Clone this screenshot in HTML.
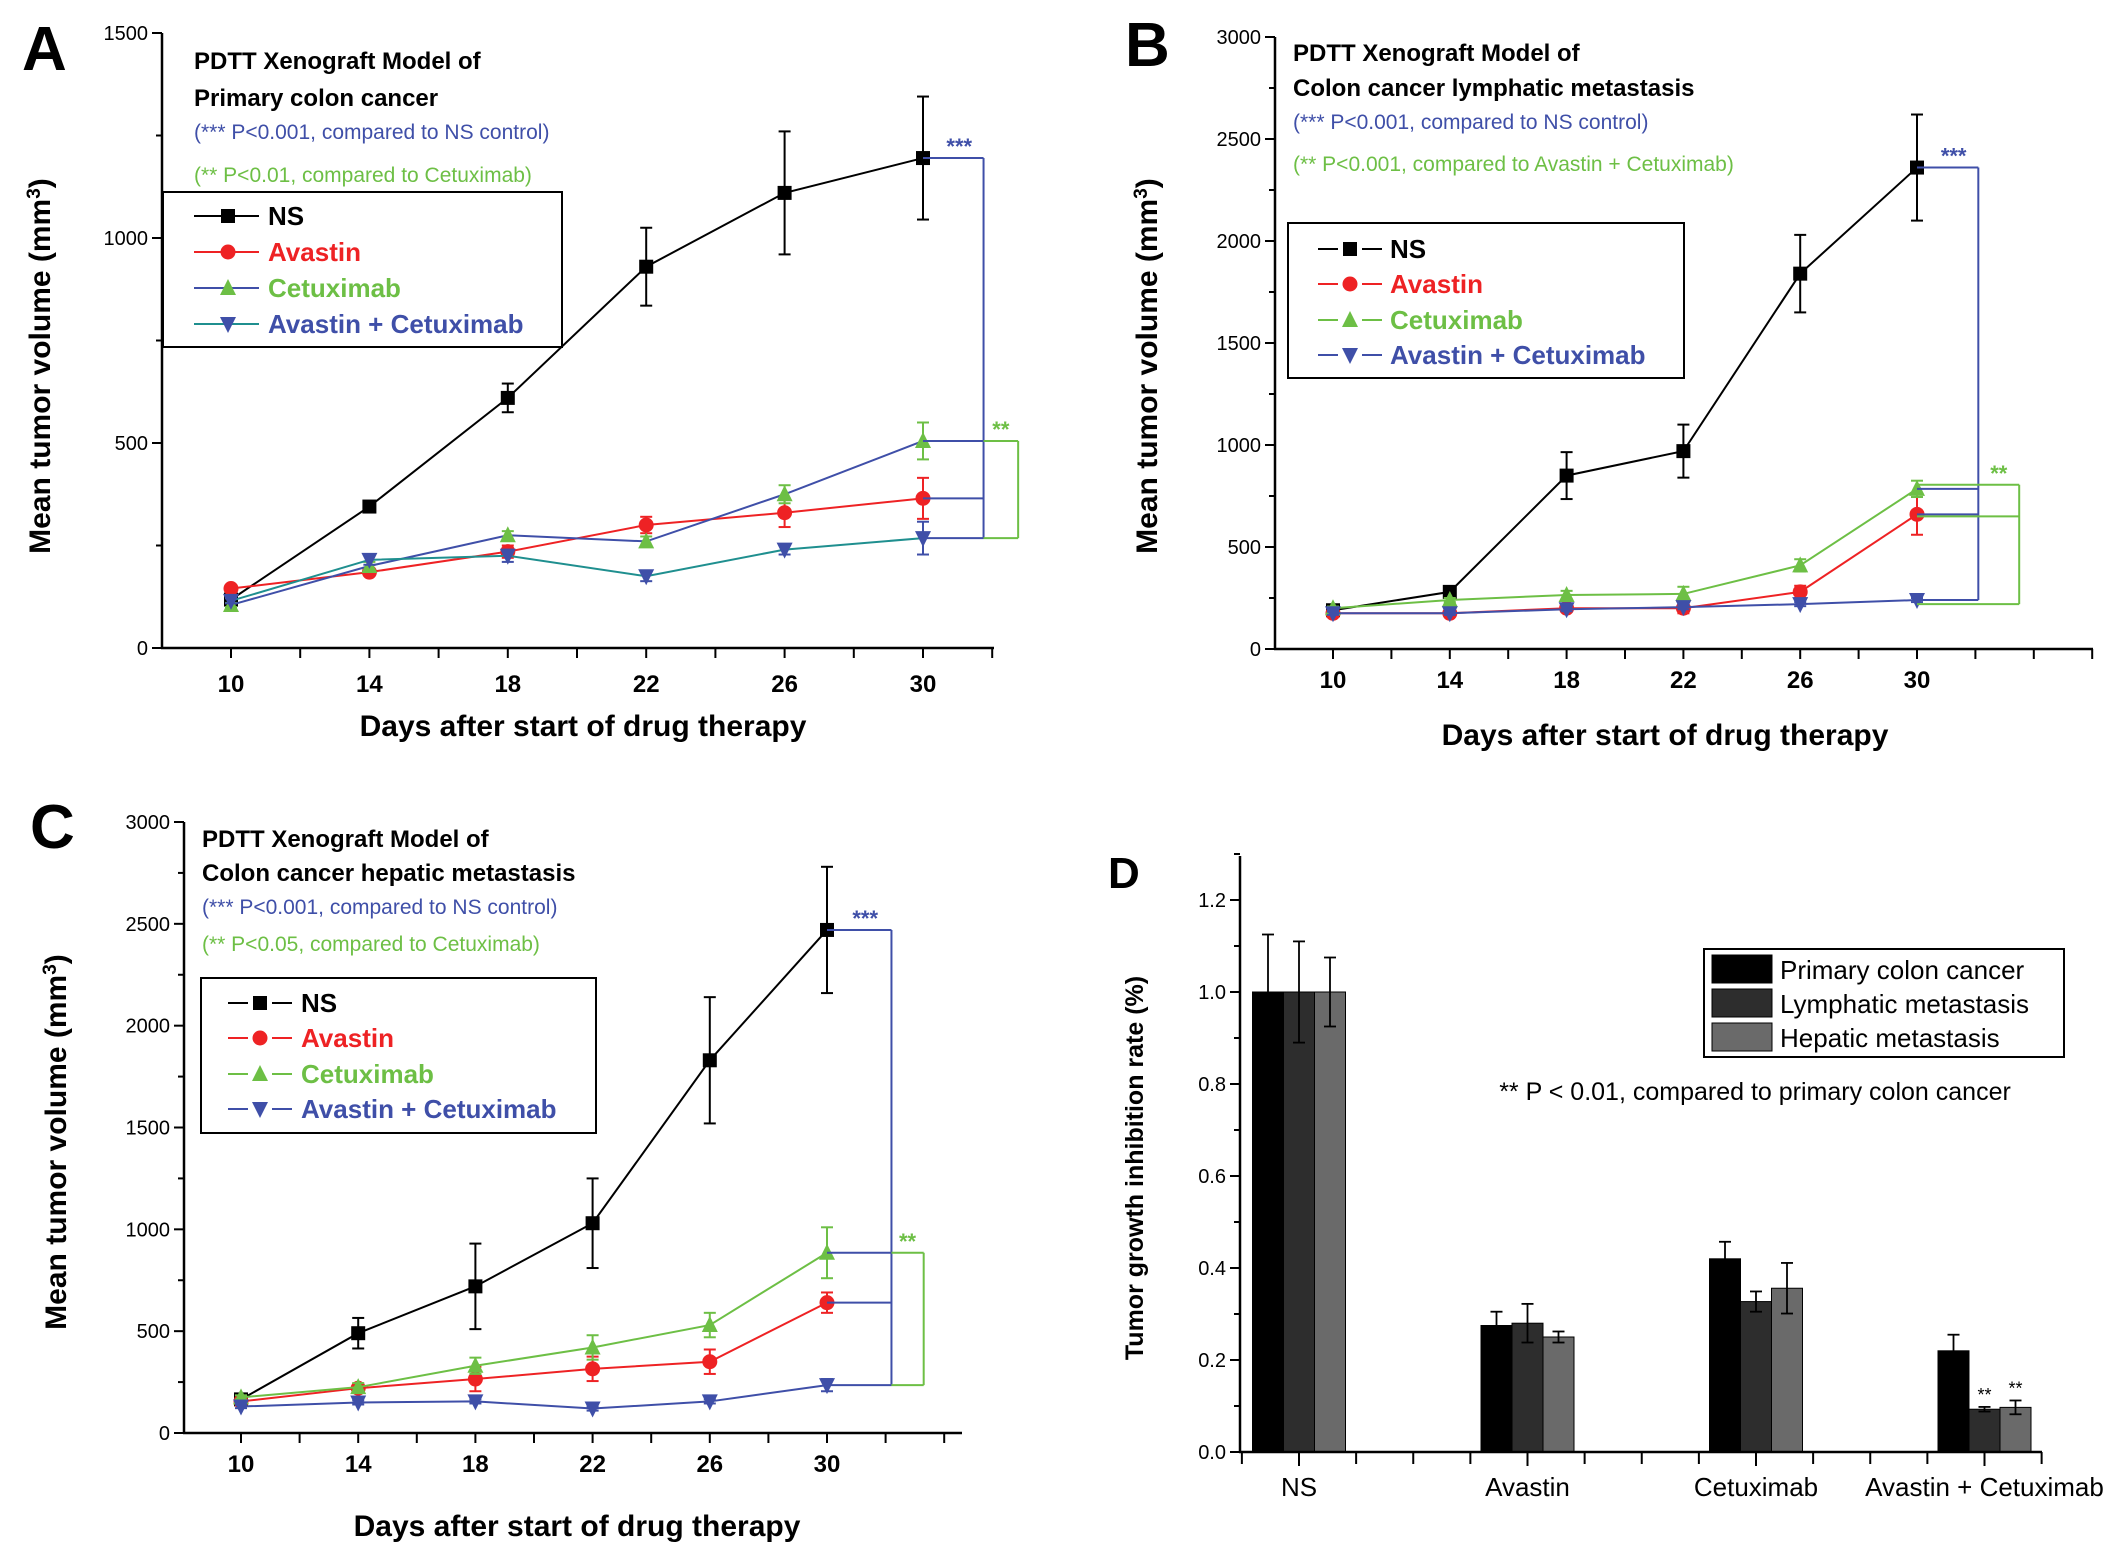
<!DOCTYPE html>
<html><head><meta charset="utf-8"><style>
html,body{margin:0;padding:0;background:#fff;}
svg{display:block;}
text{font-family:"Liberation Sans Narrow","Liberation Sans",sans-serif;}
.b{font-weight:bold;}
</style></head><body>
<svg id="fig" xmlns="http://www.w3.org/2000/svg" width="2125" height="1552" viewBox="0 0 2125 1552"></svg>
<script>
// ---------- data ----------
const days = [10, 14, 18, 22, 26, 30];
const seriesNames = ["NS", "Avastin", "Cetuximab", "Avastin + Cetuximab"];
// Panel A
const aNS = [118, 345, 610, 930, 1110, 1195];
const aNSErr = [8, 12, 35, 95, 150, 150];
const aAv = [145, 185, 235, 300, 330, 365];
const aAvErr = [8, 8, 15, 20, 35, 50];
const aCet = [105, 200, 275, 260, 375, 505];
const aCetErr = [5, 10, 10, 12, 22, 45];
const aCom = [115, 215, 225, 175, 240, 268];
const aComErr = [6, 12, 15, 12, 12, 40];
const aTicks = [0, 500, 1000, 1500];
// Panel B
const bNS = [190, 280, 850, 970, 1840, 2360];
const bNSErr = [10, 20, 115, 130, 190, 260];
const bAv = [175, 175, 200, 200, 280, 660];
const bAvErr = [8, 8, 10, 25, 30, 100];
const bCet = [200, 240, 265, 270, 410, 785];
const bCetErr = [8, 10, 20, 35, 30, 40];
const bCom = [175, 175, 195, 205, 220, 240];
const bComErr = [8, 8, 10, 10, 10, 10];
const bTicks = [0, 500, 1000, 1500, 2000, 2500, 3000];
// Panel C
const cNS = [165, 490, 720, 1030, 1830, 2470];
const cNSErr = [10, 75, 210, 220, 310, 310];
const cAv = [155, 220, 265, 315, 350, 640];
const cAvErr = [8, 20, 60, 60, 60, 50];
const cCet = [175, 225, 330, 420, 530, 885];
const cCetErr = [10, 20, 40, 60, 60, 125];
const cCom = [130, 150, 155, 120, 155, 235];
const cComErr = [8, 10, 10, 10, 10, 30];
const cTicks = [0, 500, 1000, 1500, 2000, 2500, 3000];
// Panel D
const dCats = ["NS", "Avastin", "Cetuximab", "Avastin + Cetuximab"];
const dGroups = ["Primary colon cancer", "Lymphatic metastasis", "Hepatic metastasis"];
const dPrimary = [1.0, 0.275, 0.42, 0.22];
const dPrimaryErr = [0.125, 0.03, 0.037, 0.035];
const dLymph = [1.0, 0.28, 0.327, 0.093];
const dLymphErr = [0.11, 0.042, 0.022, 0.005];
const dHep = [1.0, 0.25, 0.356, 0.097];
const dHepErr = [0.075, 0.012, 0.055, 0.015];
const dTicks = [0.0, 0.2, 0.4, 0.6, 0.8, 1.0, 1.2];
const dTickLabels = ["0.0", "0.2", "0.4", "0.6", "0.8", "1.0", "1.2"];

const NS = "http://www.w3.org/2000/svg";
const svg = document.getElementById("fig");
function mk(tag, parent) { const e = document.createElementNS(NS, tag); parent.appendChild(e); return e; }
function at(e, o) { for (const k in o) e.setAttribute(k, o[k]); return e; }
function line(p, x1, y1, x2, y2, c, w) { return at(mk("line", p), {x1, y1, x2, y2, stroke: c, "stroke-width": w || 2}); }
function txt(p, x, y, s, size, color, opts) {
  const t = mk("text", p); t.textContent = s;
  at(t, {x, y, "font-size": size, fill: color || "#000"});
  if (opts) at(t, opts);
  return t;
}
function marker(p, type, x, y, c) {
  let m;
  const s = 7;
  if (type === "sq") m = at(mk("rect", p), {x: x - s, y: y - s, width: 2 * s, height: 2 * s, fill: c});
  else if (type === "ci") m = at(mk("circle", p), {cx: x, cy: y, r: s + 0.5, fill: c});
  else if (type === "up") m = at(mk("polygon", p), {points: `${x},${y - s - 2} ${x - s - 1},${y + s} ${x + s + 1},${y + s}`, fill: c});
  else m = at(mk("polygon", p), {points: `${x},${y + s + 2} ${x - s - 1},${y - s} ${x + s + 1},${y - s}`, fill: c});
  return m;
}

const BLACK = "#000", RED = "#ee2224", GREEN = "#6dbf45", BLUE = "#3f4fa8", TEAL = "#1f8f8f";

function linePanel(cfg) {
  const g = mk("g", svg);
  
  
  const X = d => cfg.x10 + (d - 10) * cfg.pxDay;
  const Y = v => cfg.y0 - v * (cfg.y0 - cfg.yTop) / cfg.yMax;
  const L = txt(g, cfg.letterX, cfg.letterY, cfg.letter, 62, "#000", {"font-family": "Liberation Sans, sans-serif", "font-weight": "bold"});
  
  
  const ax = mk("g", g);
  
  
  line(ax, cfg.axX, Y(cfg.yMax), cfg.axX, cfg.y0 + 1, "#000", 2.5);
  const step = cfg.ticks[1] - cfg.ticks[0];
  for (let v = 0; v <= cfg.yMax; v += step / 2) {
    const major = cfg.ticks.indexOf(v) >= 0;
    line(ax, cfg.axX - (major ? 10 : 6), Y(v), cfg.axX, Y(v), "#000", 2);
  }
  cfg.ticks.forEach(v => {
    const t = txt(ax, cfg.axX - 14, Y(v) + 7, String(v), 20, "#000", {"text-anchor": "end"});
    
    
  });
  const xa = mk("g", g);
  
  
  line(xa, cfg.axX - 1, cfg.y0, cfg.axRight, cfg.y0, "#000", 2.5);
  for (let d = 10; X(d) <= cfg.axRight + 1; d += 2) line(xa, X(d), cfg.y0, X(d), cfg.y0 + 10, "#000", 2);
  for (let d = 8; X(d) >= cfg.axX; d -= 2) line(xa, X(d), cfg.y0, X(d), cfg.y0 + 10, "#000", 2);
  days.forEach(d => {
    const t = txt(xa, X(d), cfg.xTickY, String(d), 24, "#000", {"text-anchor": "middle", "font-weight": "bold"});
    
    
  });
  const xl = txt(g, cfg.xLabelX, cfg.xLabelY, "Days after start of drug therapy", 30, "#000", {"text-anchor": "middle", "font-family": "Liberation Sans, sans-serif", "font-weight": "bold"});
  
  
  const yl = mk("text", g);
  at(yl, {x: 0, y: 0, "font-size": 30, "font-weight": "bold", "text-anchor": "middle", "font-family": "Liberation Sans, sans-serif", transform: `translate(${cfg.yLabelX},${cfg.yLabelY}) rotate(-90)`});
  yl.innerHTML = 'Mean tumor volume (mm<tspan dy="-10" font-size="19">3</tspan><tspan dy="10">)</tspan>';
  
  
  const t1 = txt(g, cfg.titleX, cfg.titleY[0], "PDTT Xenograft Model of", 24, "#000", {"font-weight": "bold"});
  
  
  const t2 = txt(g, cfg.titleX, cfg.titleY[1], cfg.subtitle, 24, "#000", {"font-weight": "bold"});
  
  
  const n1 = txt(g, cfg.titleX, cfg.titleY[2], "(*** P<0.001, compared to NS control)", 21, BLUE);
  
  
  const n2 = txt(g, cfg.titleX, cfg.titleY[3], cfg.greenNote, 21, GREEN);
  
  
  const ser = cfg.series;
  ser.forEach(s => {
    const sg = mk("g", g);
    
    
    const pts = days.map((d, i) => X(d) + "," + Y(s.vals[i])).join(" ");
    at(mk("polyline", sg), {points: pts, fill: "none", stroke: s.line, "stroke-width": 2});
    days.forEach((d, i) => {
      const x = X(d), hi = Y(s.vals[i] + s.err[i]), lo = Y(s.vals[i] - s.err[i]);
      const eb = mk("g", sg);
      
      
      line(eb, x, hi, x, lo, s.mk, 2); line(eb, x - 6, hi, x + 6, hi, s.mk, 2); line(eb, x - 6, lo, x + 6, lo, s.mk, 2);
      const m = marker(sg, s.shape, x, Y(s.vals[i]), s.mk);
      
      
    });
  });
  const br = mk("g", g);
  
  
  const x30 = X(30), bx = X(cfg.blueDay), gx = X(cfg.greenDay);
  const nsV = ser[0].vals[5], avV = ser[1].vals[5], ceV = ser[2].vals[5], coV = ser[3].vals[5];
  [nsV, ceV, avV, coV].forEach(v => line(br, x30, Y(v), bx, Y(v), BLUE, 2));
  line(br, bx, Y(nsV), bx, Y(coV), BLUE, 2);
  line(br, cfg.greenFrom30 ? x30 : bx, Y(ceV + cfg.gOff), gx, Y(ceV + cfg.gOff), GREEN, 2);
  line(br, cfg.greenFrom30 ? x30 : bx, Y(coV - cfg.gOff), gx, Y(coV - cfg.gOff), GREEN, 2);
  if (cfg.greenMid) line(br, x30, Y(avV - 10), gx, Y(avV - 10), GREEN, 2);
  line(br, gx, Y(ceV + cfg.gOff), gx, Y(coV - cfg.gOff), GREEN, 2);
  const s3 = txt(br, (x30 + bx) / 2 + 6, Y(nsV) - 4, "***", 22, BLUE, {"text-anchor": "middle", "font-weight": "bold"});
  
  
  const s2 = txt(br, (bx + gx) / 2, Y(ceV + cfg.gOff) - 4, "**", 22, GREEN, {"text-anchor": "middle", "font-weight": "bold"});
  
  
  const lg = mk("g", g);
  
  
  at(mk("rect", lg), {x: cfg.leg[0], y: cfg.leg[1], width: cfg.leg[2], height: cfg.leg[3], fill: "#fff", stroke: "#000", "stroke-width": 2});
  ser.forEach((s, i) => {
    const e = mk("g", lg);
    
    
    const yy = cfg.legY[i];
    if (cfg.legSplit) {
      line(e, cfg.legLine[0], yy - 9, cfg.legLine[1] - 12, yy - 9, s.line, 2);
      line(e, cfg.legLine[1] + 12, yy - 9, cfg.legLine[2], yy - 9, s.line, 2);
    } else line(e, cfg.legLine[0], yy - 9, cfg.legLine[2], yy - 9, s.line, 2);
    marker(e, s.shape, cfg.legLine[1], yy - 9, s.mk);
    txt(e, cfg.legText, yy, seriesNames[i], 26, s.txt, {"font-weight": "bold"});
  });
}

linePanel({name: "panel-a-primary", letter: "A", letterX: 22, letterY: 70,
  axX: 162, y0: 648, yTop: 33, yMax: 1500, x10: 231, pxDay: 34.6, axRight: 994, ticks: aTicks,
  xTickY: 692, xLabelX: 583, xLabelY: 736, yLabelX: 50, yLabelY: 366,
  titleX: 194, titleY: [69, 106, 139, 182], subtitle: "Primary colon cancer", greenNote: "(** P<0.01, compared to Cetuximab)",
  blueDay: 31.75, greenDay: 32.75, gOff: 0, greenFrom30: false,
  leg: [163, 192, 399, 155], legY: [225, 261, 297, 333], legLine: [194, 228, 259], legText: 268, legSplit: false,
  series: [
    {key: "ns", vals: aNS, err: aNSErr, shape: "sq", mk: BLACK, line: BLACK, txt: BLACK},
    {key: "avastin", vals: aAv, err: aAvErr, shape: "ci", mk: RED, line: RED, txt: RED},
    {key: "cetuximab", vals: aCet, err: aCetErr, shape: "up", mk: GREEN, line: BLUE, txt: GREEN},
    {key: "avastin-cetuximab", vals: aCom, err: aComErr, shape: "dn", mk: BLUE, line: TEAL, txt: BLUE}]});

linePanel({name: "panel-b-lymphatic", letter: "B", letterX: 1125, letterY: 66,
  axX: 1275, y0: 649, yTop: 37, yMax: 3000, x10: 1333, pxDay: 29.2, axRight: 2093, ticks: bTicks,
  xTickY: 688, xLabelX: 1665, xLabelY: 745, yLabelX: 1157, yLabelY: 366,
  titleX: 1293, titleY: [61, 96, 129, 171], subtitle: "Colon cancer lymphatic metastasis", greenNote: "(** P<0.001, compared to Avastin + Cetuximab)",
  blueDay: 32.1, greenDay: 33.5, gOff: 20, greenFrom30: true, greenMid: true,
  leg: [1288, 223, 396, 155], legY: [258, 293, 329, 364], legLine: [1318, 1350, 1382], legText: 1390, legSplit: true,
  series: [
    {key: "ns", vals: bNS, err: bNSErr, shape: "sq", mk: BLACK, line: BLACK, txt: BLACK},
    {key: "avastin", vals: bAv, err: bAvErr, shape: "ci", mk: RED, line: RED, txt: RED},
    {key: "cetuximab", vals: bCet, err: bCetErr, shape: "up", mk: GREEN, line: GREEN, txt: GREEN},
    {key: "avastin-cetuximab", vals: bCom, err: bComErr, shape: "dn", mk: BLUE, line: BLUE, txt: BLUE}]});

linePanel({name: "panel-c-hepatic", letter: "C", letterX: 30, letterY: 848,
  axX: 184, y0: 1433, yTop: 822, yMax: 3000, x10: 241, pxDay: 29.3, axRight: 962, ticks: cTicks,
  xTickY: 1472, xLabelX: 577, xLabelY: 1536, yLabelX: 66, yLabelY: 1142,
  titleX: 202, titleY: [847, 881, 914, 951], subtitle: "Colon cancer hepatic metastasis", greenNote: "(** P<0.05, compared to Cetuximab)",
  blueDay: 32.2, greenDay: 33.3, gOff: 0, greenFrom30: false,
  leg: [201, 978, 395, 155], legY: [1012, 1047, 1083, 1118], legLine: [228, 260, 292], legText: 301, legSplit: true,
  series: [
    {key: "ns", vals: cNS, err: cNSErr, shape: "sq", mk: BLACK, line: BLACK, txt: BLACK},
    {key: "avastin", vals: cAv, err: cAvErr, shape: "ci", mk: RED, line: RED, txt: RED},
    {key: "cetuximab", vals: cCet, err: cCetErr, shape: "up", mk: GREEN, line: GREEN, txt: GREEN},
    {key: "avastin-cetuximab", vals: cCom, err: cComErr, shape: "dn", mk: BLUE, line: BLUE, txt: BLUE}]});

// ---------- Panel D ----------
(function () {
  const g = mk("g", svg);
  
  
  const axX = 1240, y0 = 1452, y12 = 900, catX0 = 1299, catStep = 228.5, bw = 31, right = 2042;
  const Y = v => y0 - v * (y0 - y12) / 1.2;
  const X = i => catX0 + i * catStep;
  const L = txt(g, 1108, 888, "D", 44, "#000", {"font-family": "Liberation Sans, sans-serif", "font-weight": "bold"});
  
  
  const ya = mk("g", g);
  
  
  line(ya, axX, 856, axX, y0 + 1, "#000", 2.5);
  for (let v = 0; v <= 1.3001; v += 0.1) {
    const major = Math.round(v * 10) % 2 === 0;
    line(ya, axX - (major ? 10 : 6), Y(v), axX, Y(v), "#000", 2);
  }
  dTicks.forEach((v, i) => {
    const t = txt(ya, axX - 14, Y(v) + 7, dTickLabels[i], 20, "#000", {"text-anchor": "end"});
    
    
  });
  const yl = txt(g, 0, 0, "Tumor growth inhibition rate (%)", 25, "#000", {"text-anchor": "middle", "font-family": "Liberation Sans, sans-serif", "font-weight": "bold", transform: "translate(1143,1168) rotate(-90)"});
  
  
  const series = [[dPrimary, dPrimaryErr, "#000"], [dLymph, dLymphErr, "#2d2d2d"], [dHep, dHepErr, "#6a6a6a"]];
  series.forEach((s, k) => {
    const sg = mk("g", g);
    
    
    dCats.forEach((c, i) => {
      const x = X(i) + (k - 1.5) * bw;
      const b = at(mk("rect", sg), {x, y: Y(s[0][i]), width: bw, height: y0 - Y(s[0][i]), fill: s[2], stroke: "#000", "stroke-width": 1});
      
      
      const cx = x + bw / 2, hi = Y(s[0][i] + s[1][i]), lo = Y(s[0][i] - s[1][i]);
      line(sg, cx, hi, cx, k === 0 ? Y(s[0][i]) : lo, "#000", 1.8);
      line(sg, cx - 6, hi, cx + 6, hi, "#000", 1.8);
      if (k > 0) line(sg, cx - 6, lo, cx + 6, lo, "#000", 1.8);
      if (k > 0 && i === 3) {
        const st = txt(sg, cx, hi - 6, "**", 18, "#000", {"text-anchor": "middle"});
        
        
      }
    });
  });
  const xa = mk("g", g);
  
  
  line(xa, axX - 1, y0, right, y0, "#000", 2.5);
  for (let j = -1.5; X(j) <= right + 2; j += 0.25) {
    if (X(j) < axX - 1) continue;
    line(xa, X(j), y0, X(j), y0 + (Math.abs(j - Math.round(j)) < 0.01 ? 14 : 12), "#000", 2);
  }
  dCats.forEach((c, i) => {
    const t = txt(xa, X(i), 1496, c, 26, "#000", {"text-anchor": "middle"});
    
    
  });
  const lg = mk("g", g);
  
  
  at(mk("rect", lg), {x: 1704, y: 949, width: 360, height: 108, fill: "#fff", stroke: "#000", "stroke-width": 2});
  dGroups.forEach((n, k) => {
    const e = mk("g", lg);
    
    
    const yy = 955 + k * 34;
    at(mk("rect", e), {x: 1712, y: yy, width: 60, height: 28, fill: series[k][2], stroke: "#000", "stroke-width": 1});
    txt(e, 1780, yy + 24, n, 26, "#000");
  });
  const note = txt(g, 1755, 1100, "** P < 0.01, compared to primary colon cancer", 25, "#000", {"text-anchor": "middle"});
  
  
})();
</script>
</body></html>
